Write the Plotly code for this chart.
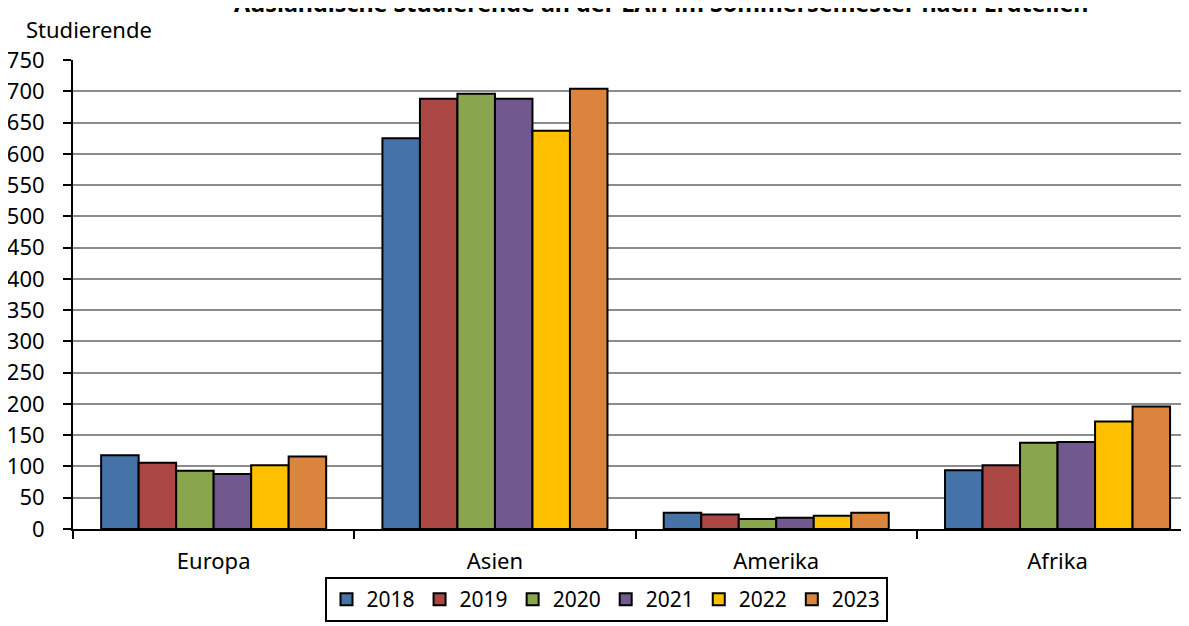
import plotly.graph_objects as go

categories = ["Europa", "Asien", "Amerika", "Afrika"]
years = ["2018", "2019", "2020", "2021", "2022", "2023"]
values = {
    "2018": [118, 625, 26, 94],
    "2019": [106, 688, 23, 102],
    "2020": [93, 696, 16, 138],
    "2021": [88, 688, 18, 139],
    "2022": [102, 637, 21, 172],
    "2023": [116, 704, 26, 196],
}
colors = ["#4572A7", "#AA4643", "#89A54E", "#71588F", "#FFC000", "#DB843D"]
y_ticks = list(range(0, 751, 50))

FONT = "Noto Sans"
W, H = 1189, 626
L, T, PH = 65, 52, 469          # plot area left/top/height in figure px
PW = W - L                      # plot width (right margin 0)
CAT = 281.3                     # px per category

fig = go.Figure()
for yr, col in zip(years, colors):
    fig.add_trace(go.Bar(
        x=categories, y=values[yr], name=yr,
        marker=dict(color=col, line=dict(color="black", width=2)),
    ))

fig.update_layout(
    width=W, height=H,
    margin=dict(l=L, r=0, t=T, b=H - T - PH, autoexpand=False),
    paper_bgcolor="white", plot_bgcolor="white",
    barmode="group", bargap=0.2, bargroupgap=0,
    font=dict(family=FONT, size=22, color="black"),
    showlegend=True,
    legend=dict(
        orientation="h", xref="container", x=598 / W, xanchor="center",
        yref="container", y=1 - 569 / H, yanchor="top",
        bordercolor="black", borderwidth=2, bgcolor="white",
        font=dict(family=FONT, size=21), itemwidth=30, tracegroupgap=0,
    ),
    xaxis=dict(
        type="category", range=[-0.5, -0.5 + PW / CAT], tickson="boundaries",
        ticks="outside", ticklen=8, tickwidth=2, tickcolor="black",
        showline=True, linecolor="black", linewidth=2,
        showgrid=False, tickfont=dict(size=22), automargin=False,
        ticklabelstandoff=12,
    ),
    yaxis=dict(
        range=[0, 750], tickvals=y_ticks,
        ticks="outside", ticklen=8, tickwidth=2, tickcolor="black",
        showline=True, linecolor="black", linewidth=2,
        gridcolor="#8c8c8c", gridwidth=2, zeroline=False,
        tickfont=dict(size=22), automargin=False, ticklabelstandoff=14,
    ),
    annotations=[
        dict(text="Studierende", xref="paper", yref="paper",
             x=(16 - L) / PW, y=1 + (T - 4) / PH,
             xanchor="left", yanchor="top", showarrow=False,
             font=dict(family=FONT, size=22)),
        dict(text="<b>Ausländische Studierende an der LAH im Sommersemester nach Erdteilen</b>",
             xref="paper", yref="paper", x=(653 - L) / PW, y=1.0 + (T + 5) / PH,
             xanchor="center", yanchor="middle", showarrow=False,
             font=dict(family=FONT, size=23.3)),
    ],
)

fig.write_html("out.html")
